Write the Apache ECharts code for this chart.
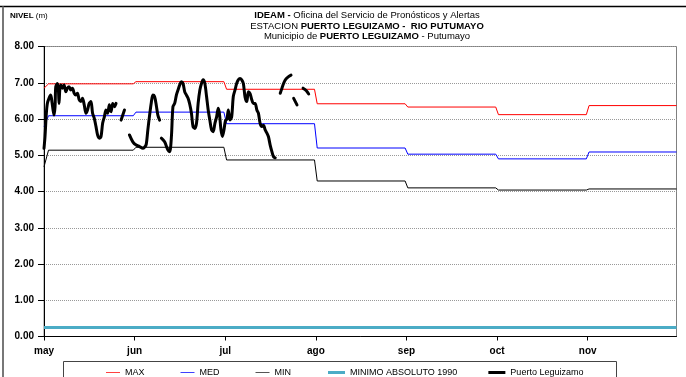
<!DOCTYPE html>
<html>
<head>
<meta charset="utf-8">
<script src="https://cdn.jsdelivr.net/npm/echarts@6/dist/echarts.min.js"></script>
<style>
html,body{margin:0;padding:0;background:#fff;}
#c{width:686px;height:377px;}
</style>
</head>
<body>
<div id="c"></div>
<script>
// ---- data ----
const months = ['may', 'jun', 'jul', 'ago', 'sep', 'oct', 'nov'];
const monthTicks = [0, 1, 2, 3, 4, 5, 6];

// reference levels: value on day 1 of May, then monthly levels (May..Nov)
const maxStart = 6.85;
const maxMonthly = [6.97, 7.03, 6.82, 6.42, 6.33, 6.12, 6.37];
const medStart = 5.79;
const medMonthly = [6.09, 6.19, 5.87, 5.20, 5.03, 4.90, 5.09];
const minStart = 4.68;
const minMonthly = [5.14, 5.22, 4.87, 4.29, 4.10, 4.04, 4.07];
const minAbs1990 = 0.25;

// observed levels: position in months since 1 May, level (m); null = gap
const obsPos = [
  0, 0.011, 0.026, 0.037, 0.055, 0.074, 0.089, 0.100, 0.111, 0.122, 0.130, 0.148, 0.159, 0.166, 0.174, 0.185,
  0.203, 0.222, 0.241, 0.258, 0.277, 0.296, 0.314, 0.333, 0.352, 0.369, 0.388, 0.407, 0.425, 0.444, 0.463,
  0.480, 0.499, 0.518, 0.536, 0.555, 0.574, 0.591, 0.610, 0.629, 0.647, 0.666, 0.684, 0.702, 0.721, 0.740,
  0.758, 0.777, 0.795, 0.82,
  0.851, 0.888, 0.91,
  0.943, 0.980, 1.017, 1.054, 1.091, 1.109, 1.128, 1.146, 1.165, 1.184, 1.201, 1.220, 1.239, 1.257, 1.276, 1.285,
  1.295, 1.331, 1.368, 1.387, 1.406, 1.423, 1.442, 1.461, 1.479, 1.498, 1.516, 1.534, 1.553, 1.572, 1.590,
  1.609, 1.627, 1.645, 1.664, 1.683, 1.701, 1.720, 1.738, 1.756, 1.775, 1.794, 1.812, 1.830, 1.849, 1.867,
  1.886, 1.905, 1.923, 1.936, 1.953, 1.969, 1.986, 2.002, 2.019, 2.034, 2.052, 2.071, 2.089, 2.108, 2.126,
  2.144, 2.163, 2.182, 2.200, 2.219, 2.238, 2.255, 2.274, 2.293, 2.311, 2.330, 2.349, 2.366, 2.385, 2.404,
  2.422, 2.441, 2.460, 2.477, 2.496, 2.515, 2.533, 2.552, 2.58,
  2.607, 2.626, 2.644, 2.663, 2.699, 2.726, 2.74,
  2.755, 2.792, 2.82,
  2.859, 2.895, 2.921
];
const obsLevel = [
  5.19, 5.51, 6.16, 6.43, 6.57, 6.66, 6.45, 6.25, 6.11, 6.34, 6.89, 6.98, 6.80, 6.43, 6.80, 6.94,
  6.85, 6.94, 6.75, 6.85, 6.89, 6.80, 6.85, 6.71, 6.66, 6.71, 6.53, 6.48, 6.57, 6.39, 6.16,
  6.25, 6.43, 6.48, 6.16, 6.02, 5.79, 5.56, 5.47, 5.51, 5.88, 6.06, 6.25, 6.16, 6.39, 6.20,
  6.43, 6.34, 6.43, null,
  5.97, 6.25, null,
  5.56, 5.37, 5.28, 5.24, 5.19, 5.22, 5.30, 5.70, 6.10, 6.45, 6.66, 6.62, 6.38, 6.10, 5.97, null,
  5.47, 5.37, 5.14, 5.10, 5.51, 6.34, 6.43, 6.66, 6.80, 6.94, 7.03, 6.98, 6.75, 6.66, 6.57,
  6.40, 6.16, 5.79, 5.74, 5.88, 6.43, 6.80, 6.98, 7.08, 6.98, 6.62, 6.25, 5.97, 5.70, 5.65,
  5.88, 6.06, 6.30, 6.15, 5.70, 5.52, 5.70, 5.95, 6.00, 6.25, 5.97, 6.06, 6.62, 6.80, 6.98,
  7.08, 7.12, 7.08, 6.98, 6.60, 6.48, 6.75, 6.70, 6.53, 6.43, 6.43, 6.25, 6.16, 5.88, 5.79,
  5.83, 5.70, 5.61, 5.51, 5.28, 5.10, 4.96, 4.93, null,
  6.71, 6.85, 6.98, 7.08, 7.17, 7.21, null,
  6.57, 6.39, null,
  6.85, 6.78, 6.69
];

// ---- build ----
const X_MAX = 6.98;
function steps(start, monthly) {
  const pts = [[0, start]];
  monthly.forEach((v, m) => {
    pts.push([m === 0 ? 0.05 : m + 0.015, v]);
    pts.push([Math.min(m + 0.985, X_MAX), v]);
  });
  return pts;
}
const obsData = obsPos.map((x, i) => [x, obsLevel[i] === null ? '-' : obsLevel[i]]);
const FONT = '"Liberation Sans", Arial, sans-serif';
const legendText = {fontFamily: FONT, fontSize: 9, color: '#000'};

const chart = echarts.init(document.getElementById('c'), null, {renderer: 'canvas'});
chart.setOption({
  animation: false,
  backgroundColor: '#fff',
  grid: {left: 44, right: 9.5, top: 46.5, bottom: 40.5, show: true, borderColor: '#808080', borderWidth: 1},
  xAxis: {
    type: 'value', min: 0, max: X_MAX,
    axisLine: {show: true, onZero: false, lineStyle: {color: '#000', width: 1}},
    axisTick: {show: true, customValues: monthTicks, length: 4, lineStyle: {color: '#000'}},
    axisLabel: {
      customValues: monthTicks, margin: 10,
      formatter: v => months[Math.round(v)] || '',
      fontFamily: FONT, fontWeight: 'bold', fontSize: 10, color: '#000'
    },
    splitLine: {show: false}
  },
  yAxis: {
    type: 'value', min: 0, max: 8, interval: 1,
    axisLine: {show: true, lineStyle: {color: '#000', width: 1}},
    axisTick: {show: true, length: 6, lineStyle: {color: '#000'}},
    axisLabel: {
      margin: 10, formatter: v => v.toFixed(2),
      fontFamily: FONT, fontWeight: 'bold', fontSize: 10, color: '#000'
    },
    splitLine: {show: true, lineStyle: {color: '#999', type: [1, 1], width: 1}}
  },
  legend: [
    {left: 101, top: 363, itemGap: 36, itemWidth: 14, itemHeight: 1, icon: 'rect',
     textStyle: legendText, data: ['MAX', 'MED', 'MIN']},
    {left: 323, top: 363, itemGap: 31, itemWidth: 17, itemHeight: 3, icon: 'rect',
     textStyle: legendText, data: ['MINIMO ABSOLUTO 1990', 'Puerto Leguizamo']}
  ],
  series: [
    {name: 'MAX', type: 'line', symbol: 'none', data: steps(maxStart, maxMonthly),
     lineStyle: {color: '#ff0000', width: 1}, itemStyle: {color: '#ff4040'}, z: 2},
    {name: 'MED', type: 'line', symbol: 'none', data: steps(medStart, medMonthly),
     lineStyle: {color: '#0000ff', width: 1}, itemStyle: {color: '#4040ff'}, z: 2},
    {name: 'MIN', type: 'line', symbol: 'none', data: steps(minStart, minMonthly),
     lineStyle: {color: '#000', width: 1}, itemStyle: {color: '#555'}, z: 2},
    {name: 'MINIMO ABSOLUTO 1990', type: 'line', symbol: 'none', data: [[0, minAbs1990], [X_MAX, minAbs1990]],
     lineStyle: {color: '#4bacc6', width: 3}, itemStyle: {color: '#4bacc6'}, z: 3},
    {name: 'Puerto Leguizamo', type: 'line', symbol: 'none', data: obsData, connectNulls: false, smooth: 0.3,
     lineStyle: {color: '#000', width: 3, cap: 'round', join: 'round'}, itemStyle: {color: '#000'}, z: 4}
  ],
  graphic: [
    {type: 'line', shape: {x1: 0, y1: 6.5, x2: 686, y2: 6.5}, style: {stroke: '#000', lineWidth: 1.5}, silent: true},
    {type: 'line', shape: {x1: 3, y1: 6.5, x2: 3, y2: 377}, style: {stroke: '#777', lineWidth: 2}, silent: true},
    {type: 'rect', shape: {x: 63.5, y: 361.5, width: 553, height: 40}, style: {fill: 'none', stroke: '#444', lineWidth: 1}, silent: true, z: -1},
    {type: 'text', left: 10, top: 12, style: {text: '{b|NIVEL} (m)', font: '8px ' + FONT, fill: '#000',
      rich: {b: {fontWeight: 'bold', fontSize: 8, fontFamily: FONT}}}},
    {type: 'text', x: 367, y: 15.7, style: {text: '{b|IDEAM -} Oficina del Servicio de Pronósticos y Alertas',
      font: '9.5px ' + FONT, fill: '#000', align: 'center', verticalAlign: 'middle',
      rich: {b: {fontWeight: 'bold', fontSize: 9.5, fontFamily: FONT}}}},
    {type: 'text', x: 367, y: 26, style: {text: 'ESTACION {b|PUERTO LEGUIZAMO -  RIO PUTUMAYO}',
      font: '9.5px ' + FONT, fill: '#000', align: 'center', verticalAlign: 'middle',
      rich: {b: {fontWeight: 'bold', fontSize: 9.5, fontFamily: FONT}}}},
    {type: 'text', x: 367, y: 36.2, style: {text: 'Municipio de {b|PUERTO LEGUIZAMO} - Putumayo',
      font: '9.5px ' + FONT, fill: '#000', align: 'center', verticalAlign: 'middle',
      rich: {b: {fontWeight: 'bold', fontSize: 9.5, fontFamily: FONT}}}}
  ]
});
</script>
</body>
</html>
